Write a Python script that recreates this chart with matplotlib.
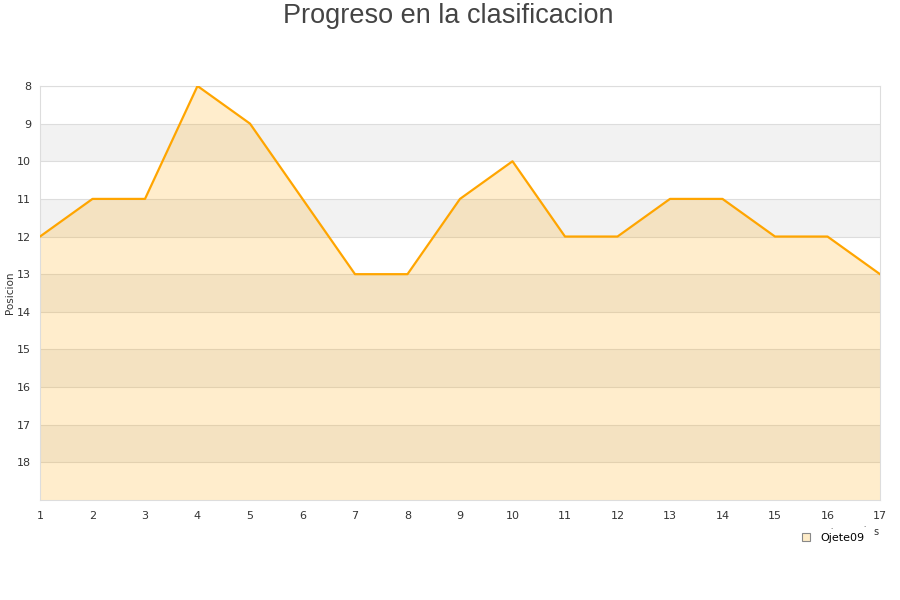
import matplotlib
matplotlib.use('Agg')
import matplotlib.pyplot as plt
from matplotlib.lines import Line2D

# datos
jornadas = list(range(1, 18))
posiciones = [12, 11, 11, 8, 9, 11, 13, 13, 11, 10, 12, 12, 11, 11, 12, 12, 13]
y_ticks = list(range(8, 19))
equipo = 'Ojete09'
titulo = 'Progreso en la clasificacion'

fig = plt.figure(figsize=(9, 6), dpi=100)
ax = fig.add_axes([40 / 900, 100 / 600, 840 / 900, 414 / 600])

# bandas alternas
for y0 in range(9, 19, 2):
    ax.axhspan(y0, y0 + 1, color='#f2f2f2', zorder=0, lw=0)
for y in range(8, 19):
    ax.axhline(y, color='#dddddd', lw=0.8, zorder=1)

ax.fill_between(jornadas, posiciones, 19, color='orange', alpha=0.2, lw=0, zorder=2)
ax.plot(jornadas, posiciones, color='orange', lw=1.6, zorder=3)

ax.set_xlim(1, 17)
ax.set_ylim(19, 8)
ax.set_xticks(jornadas)
ax.set_yticks(y_ticks)
ax.tick_params(axis='y', length=0, labelsize=8, colors='#333333', pad=6.5)
ax.tick_params(axis='x', length=0, labelsize=8, colors='#333333', pad=8)
for s in ax.spines.values():
    s.set_color('#dddddd')
fig.text(10 / 900, 1 - 293 / 600, 'Posicion', rotation=90, ha='center', va='center',
         fontsize=7.5, color='#333333')

fig.text(448 / 900, 1 - 16 / 600, titulo, ha='center', va='center', fontsize=19.5,
         color='#444444', family='Liberation Sans')

# restos del titulo del eje x
fig.text(876 / 900, 1 - 532 / 600, 's', ha='center', va='center', fontsize=7, color='#333333')
fig.text(831 / 900, 1 - 527 / 600, '.', ha='center', va='center', fontsize=5, color='#333333')
fig.text(864 / 900, 1 - 525 / 600, '.', ha='center', va='center', fontsize=5, color='#333333')

h = Line2D([], [], marker='s', ls='none', markersize=6, markerfacecolor='#feecc8',
           markeredgecolor='#888888', markeredgewidth=0.8)
fig.legend([h], [equipo], loc='center left', bbox_to_anchor=(790 / 900, 1 - 538 / 600),
           frameon=False, fontsize=8, handletextpad=0.3, borderaxespad=0)

fig.savefig('out.png', dpi=100)
